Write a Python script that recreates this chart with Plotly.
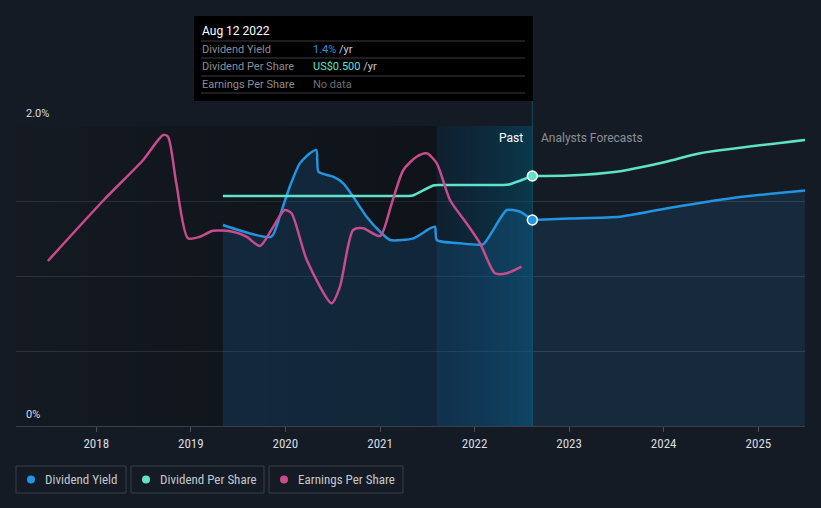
import plotly.graph_objects as go

# ---------------- data ----------------
yield_dates = ["2019-05-05", "2019-11-08", "2019-12-10", "2020-01-18", "2020-02-26", "2020-04-05",
               "2020-04-30", "2020-05-08", "2020-07-04", "2020-08-12", "2020-09-19", "2020-11-10",
               "2021-01-01", "2021-02-09", "2021-05-10", "2021-07-13", "2021-08-01", "2021-08-08",
               "2021-11-06", "2022-02-04", "2022-03-14", "2022-05-05", "2022-06-24", "2022-08-12"]
yield_vals = [1.34, 1.262, 1.395, 1.595, 1.751, 1.818, 1.84, 1.695, 1.662, 1.618, 1.529, 1.395,
              1.295, 1.24, 1.251, 1.318, 1.329, 1.24, 1.218, 1.213, 1.307, 1.44, 1.43, 1.373]
yield_fc_dates = ["2022-08-12", "2023-01-01", "2023-07-16", "2024-01-11", "2024-09-24", "2025-06-30"]
yield_fc_vals = [1.373, 1.383, 1.395, 1.45, 1.52, 1.57]

dps_dates = ["2019-05-05", "2020-06-01", "2021-04-20", "2021-05-08", "2021-07-25", "2021-08-15",
             "2022-04-20", "2022-05-14", "2022-08-12"]
dps_vals = [0.46, 0.46, 0.46, 0.461, 0.481, 0.482, 0.482, 0.483, 0.50]
dps_fc_dates = ["2022-08-12", "2023-01-01", "2023-07-03", "2024-01-11", "2024-05-21", "2025-06-30"]
dps_fc_vals = [0.50, 0.501, 0.5086, 0.5286, 0.5454, 0.572]

eps_dates = ["2017-06-28", "2018-01-30", "2018-07-01", "2018-09-16", "2018-10-05", "2018-11-06",
             "2018-12-21", "2019-02-05", "2019-03-28", "2019-06-13", "2019-08-04", "2019-09-25",
             "2019-11-08", "2019-12-30", "2020-01-25", "2020-03-24", "2020-06-28", "2020-07-30",
             "2020-09-19", "2020-10-28", "2021-01-01", "2021-02-15", "2021-04-01", "2021-05-22",
             "2021-06-30", "2021-08-08", "2021-09-28", "2021-12-01", "2022-01-22", "2022-03-21",
             "2022-05-05", "2022-07-01"]
eps_vals = [1.65, 2.26, 2.66, 2.91, 2.893, 2.427, 1.877, 1.893, 1.953, 1.943, 1.893, 1.80,
            1.96, 2.16, 2.127, 1.66, 1.227, 1.393, 1.96, 1.977, 1.90, 2.227, 2.56, 2.693,
            2.727, 2.627, 2.26, 2.027, 1.827, 1.527, 1.527, 1.593]

x_start, x_end = "2017-02-25", "2025-06-30"
band_start, today = "2021-08-08", "2022-08-12"
year_ticks = ["2018-01-01", "2019-01-01", "2020-01-01", "2021-01-01", "2022-01-01",
              "2023-01-01", "2024-01-01", "2025-01-01"]
year_labels = ["2018", "2019", "2020", "2021", "2022", "2023", "2024", "2025"]

BLUE = "#2394df"
TEAL = "#5fe3c8"
PINK = "#c84b8d"
BG = "#151b24"
TXT = "#d8dbe0"
NARROW = "Roboto Condensed, Liberation Sans Narrow, Roboto, sans-serif"

# pixel -> paper helpers (plot area: x 16..805, y 126..426)
L, R, T, B = 16, 805, 126, 426
def px(x):
    return (x - L) / (R - L)
def py(y):
    return (B - y) / (B - T)

fig = go.Figure()

# dark past region (translucent so gridlines show through)
fig.add_trace(go.Scatter(x=[x_start, band_start, band_start, x_start, x_start], y=[0, 0, 2, 2, 0],
                         fill="toself", mode="lines", line=dict(width=0),
                         fillgradient=dict(type="horizontal",
                                           colorscale=[[0, "rgba(0,0,0,0.06)"], [1, "rgba(0,0,0,0.30)"]]),
                         hoverinfo="skip", showlegend=False))
# past band
fig.add_trace(go.Scatter(x=[band_start, today, today, band_start, band_start], y=[0, 0, 2, 2, 0],
                         fill="toself", mode="lines", line=dict(width=0),
                         fillgradient=dict(type="horizontal",
                                           colorscale=[[0, "rgba(0,45,75,0.28)"], [1, "rgba(0,85,115,0.50)"]]),
                         hoverinfo="skip", showlegend=False))

# dividend yield
fig.add_trace(go.Scatter(x=yield_dates, y=yield_vals, mode="lines", name="Dividend Yield",
                         line=dict(color=BLUE, width=2.5, shape="spline", smoothing=0.6),
                         fill="tozeroy", fillcolor="rgba(33,150,243,0.15)", showlegend=False))
fig.add_trace(go.Scatter(x=yield_fc_dates, y=yield_fc_vals, mode="lines", name="Dividend Yield forecast",
                         line=dict(color=BLUE, width=2.5, shape="spline", smoothing=0.6),
                         fill="tozeroy", fillcolor="rgba(33,150,243,0.12)", showlegend=False))

# dividend per share
fig.add_trace(go.Scatter(x=dps_dates, y=dps_vals, mode="lines", name="Dividend Per Share", yaxis="y2",
                         line=dict(color=TEAL, width=2.5, shape="spline", smoothing=0.5),
                         showlegend=False))
fig.add_trace(go.Scatter(x=dps_fc_dates, y=dps_fc_vals, mode="lines", name="DPS forecast", yaxis="y2",
                         line=dict(color=TEAL, width=2.5, shape="spline", smoothing=0.6),
                         showlegend=False))

# earnings per share
fig.add_trace(go.Scatter(x=eps_dates, y=eps_vals, mode="lines", name="Earnings Per Share", yaxis="y3",
                         line=dict(color=PINK, width=2.5, shape="spline", smoothing=0.7),
                         showlegend=False))

# markers at today
fig.add_trace(go.Scatter(x=[yield_dates[-1]], y=[yield_vals[-1]], mode="markers",
                         marker=dict(color=BLUE, size=10, line=dict(color="white", width=1.5)),
                         showlegend=False, hoverinfo="skip"))
fig.add_trace(go.Scatter(x=[dps_dates[-1]], y=[dps_vals[-1]], mode="markers", yaxis="y2",
                         marker=dict(color=TEAL, size=10, line=dict(color="white", width=1.5)),
                         showlegend=False, hoverinfo="skip"))

shapes = []
# today vertical line
shapes.append(dict(type="line", xref="x", yref="paper", x0=today, x1=today, y0=0, y1=py(100),
                   line=dict(color="#164a5e", width=1), layer="below"))
# tooltip
shapes.append(dict(type="rect", xref="paper", yref="paper", x0=px(194), x1=px(533), y0=py(101), y1=py(16),
                   fillcolor="#000000", line=dict(width=0), layer="above"))
for yy in [41, 58, 76, 93]:
    shapes.append(dict(type="line", xref="paper", yref="paper", x0=px(201), x1=px(525), y0=py(yy), y1=py(yy),
                       line=dict(color="#3a3d42", width=1), layer="above"))

# legend boxes
legend_items = [("Dividend Yield", BLUE, 16, 126), ("Dividend Per Share", TEAL, 131, 264),
                ("Earnings Per Share", PINK, 269, 403)]
annotations = []
for label, col, x0, x1 in legend_items:
    shapes.append(dict(type="rect", xref="paper", yref="paper", x0=px(x0), x1=px(x1), y0=py(493), y1=py(466),
                       line=dict(color="#3a404a", width=1), fillcolor="rgba(0,0,0,0)"))
    shapes.append(dict(type="circle", xref="paper", yref="paper", x0=px(x0 + 11), x1=px(x0 + 19),
                       y0=py(483.5), y1=py(475.5), fillcolor=col, line=dict(width=0)))
    annotations.append(dict(text=label, xref="paper", yref="paper", x=px(x0 + 27), y=py(479.5),
                            xanchor="left", yanchor="middle", showarrow=False,
                            font=dict(family=NARROW, size=13, color="#c3c7cd")))

# tooltip texts
annotations.append(dict(text="Aug 12 2022", xref="paper", yref="paper", x=px(200), y=py(31),
                        xanchor="left", yanchor="middle", showarrow=False,
                        font=dict(family="Roboto", size=12, color="#ffffff")))
rows = [("Dividend Yield", f"<span style='color:{BLUE}'>1.4%</span> /yr", 49),
        ("Dividend Per Share", f"<span style='color:{TEAL}'>US$0.500</span> /yr", 66),
        ("Earnings Per Share", "<span style='color:#6b6f75'>No data</span>", 84)]
for lab, val, yy in rows:
    annotations.append(dict(text=lab, xref="paper", yref="paper", x=px(200), y=py(yy),
                            xanchor="left", yanchor="middle", showarrow=False,
                            font=dict(family="Roboto", size=11, color="#8a8e94")))
    annotations.append(dict(text=val, xref="paper", yref="paper", x=px(311), y=py(yy),
                            xanchor="left", yanchor="middle", showarrow=False,
                            font=dict(family="Roboto", size=11, color="#c8ccd2")))

# past / forecast labels
annotations.append(dict(text="Past", xref="paper", yref="paper", x=px(525), y=py(138),
                        xanchor="right", yanchor="middle", showarrow=False,
                        font=dict(family="Roboto", size=12, color="#ffffff")))
annotations.append(dict(text="Analysts Forecasts", xref="paper", yref="paper", x=px(539), y=py(138),
                        xanchor="left", yanchor="middle", showarrow=False,
                        font=dict(family="Roboto", size=12, color="#8c9096")))
# y labels
annotations.append(dict(text="2.0%", xref="paper", yref="paper", x=px(24), y=py(114),
                        xanchor="left", yanchor="middle", showarrow=False,
                        font=dict(family="Roboto", size=11, color=TXT)))
annotations.append(dict(text="0%", xref="paper", yref="paper", x=px(24), y=py(414),
                        xanchor="left", yanchor="middle", showarrow=False,
                        font=dict(family="Roboto", size=11, color=TXT)))

fig.update_layout(
    width=821, height=508,
    margin=dict(l=L, r=821 - R, t=T, b=508 - B),
    paper_bgcolor=BG, plot_bgcolor=BG,
    showlegend=False,
    xaxis=dict(type="date", range=[x_start, x_end], tickvals=year_ticks, ticktext=year_labels,
               ticks="outside", ticklen=5, tickcolor="#4a505a", showgrid=False,
               showline=True, linecolor="#3a404a", linewidth=1, zeroline=False,
               tickfont=dict(family=NARROW, size=13, color=TXT)),
    yaxis=dict(range=[0, 2], tickvals=[0, 0.5, 1, 1.5, 2], showticklabels=False,
               gridcolor="#2f3540", gridwidth=1, zeroline=False, fixedrange=True),
    yaxis2=dict(range=[0, 0.6], overlaying="y", visible=False),
    yaxis3=dict(range=[0, 3.0], overlaying="y", visible=False),
    shapes=shapes, annotations=annotations,
)

fig.write_html("out.html", config={"displayModeBar": False},
               post_script="document.body.style.margin='0';document.body.style.background='#151b24';")
